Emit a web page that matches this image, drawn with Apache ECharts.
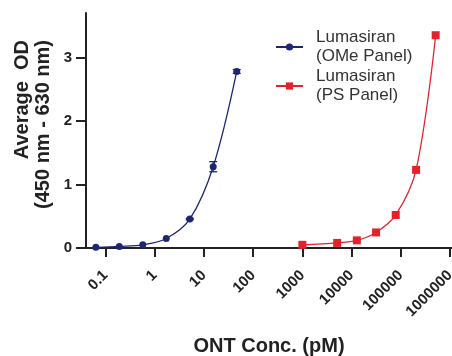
<!DOCTYPE html>
<html>
<head>
<meta charset="utf-8">
<script src="https://cdn.jsdelivr.net/npm/echarts@6/dist/echarts.min.js"></script>
<style>
  html, body { margin: 0; padding: 0; background: #fff; }
  #chart { width: 452px; height: 356px; }
</style>
</head>
<body>
<div id="chart"></div>
<script>
  // ONT concentrations (pM) and mean OD
  const omeConc = [0.0635, 0.19, 0.57, 1.71, 5.14, 15.4, 46.3];
  const omeOD = [0.01, 0.025, 0.05, 0.15, 0.455, 1.28, 2.78];
  const omeErr = [0, 0, 0, 0, 0.01, 0.08, 0.03];

  const psConc = [1000, 5100, 12800, 31500, 79000, 205000, 512000];
  const psOD = [0.05, 0.08, 0.12, 0.245, 0.52, 1.23, 3.35];

  const xTicks = [0.1, 1, 10, 100, 1000, 10000, 100000, 1000000];
  const yTicks = [0, 1, 2, 3];

  const FONT = '"Liberation Sans", Arial, sans-serif';
  const BLUE = '#1d2675';
  const RED = '#e3222b';
  const AXIS = '#222';

  const chart = echarts.init(document.getElementById('chart'));

  const omeData = omeConc.map((c, i) => [c, omeOD[i]]);
  const psData = psConc.map((c, i) => [c, psOD[i]]);
  const errData = omeConc.map((c, i) => [c, omeOD[i] - omeErr[i], omeOD[i] + omeErr[i]])
    .filter((d, i) => omeErr[i] > 0);

  chart.setOption({
    backgroundColor: '#fff',
    animation: false,
    textStyle: { fontFamily: FONT },

    grid: { left: 86, right: 0, top: 13, bottom: 108, outerBoundsMode: 'none' },

    legend: {
      orient: 'vertical',
      left: 270,
      top: 23,
      itemWidth: 27,
      itemHeight: 9,
      itemGap: 1,
      data: ['Lumasiran\n(OMe Panel)', 'Lumasiran\n(PS Panel)'],
      textStyle: { fontSize: 17, lineHeight: 19, color: '#333', fontFamily: FONT, padding: [0, 0, 0, 8] }
    },

    // 标题（Y）
    graphic: [{
      type: 'text',
      x: 33,
      y: 40,
      rotation: Math.PI / 2,
      style: {
        text: 'Average  OD\n(450 nm - 630 nm)',
        align: 'right',
        verticalAlign: 'middle',
        font: 'bold 20px ' + FONT,
        lineHeight: 21,
        fill: AXIS
      }
    }],

    xAxis: {
      type: 'log',
      logBase: 10,
      min: 0.04,
      max: 1100000,
      name: 'ONT Conc. (pM)',
      nameLocation: 'middle',
      nameGap: 88,
      nameTextStyle: { fontSize: 20, fontWeight: 'bold', color: AXIS, fontFamily: FONT },
      axisLine: { lineStyle: { color: AXIS, width: 2 } },
      axisTick: { show: true, length: 9, lineStyle: { color: AXIS, width: 2 }, customValues: xTicks },
      axisLabel: {
        customValues: xTicks,
        rotate: 45,
        margin: 25,
        fontSize: 15,
        fontWeight: 'bold',
        color: AXIS,
        fontFamily: FONT,
        formatter: v => String(v)
      },
      splitLine: { show: false },
      minorTick: { show: false }
    },

    yAxis: {
      type: 'value',
      min: 0,
      max: 3.7,
      interval: 1,
      axisLine: { show: true, lineStyle: { color: AXIS, width: 2 } },
      axisTick: { show: true, length: 10, lineStyle: { color: AXIS, width: 2 }, customValues: yTicks },
      axisLabel: {
        customValues: yTicks,
        margin: 14,
        fontSize: 15,
        fontWeight: 'bold',
        color: AXIS,
        fontFamily: FONT
      },
      splitLine: { show: false }
    },

    series: [{
      name: 'Lumasiran\n(OMe Panel)',
      type: 'line',
      data: omeData,
      smooth: 0.35,
      symbol: 'circle',
      symbolSize: 7,
      color: BLUE,
      lineStyle: { width: 1.3, color: BLUE },
      z: 3
    }, {
      name: 'Lumasiran\n(PS Panel)',
      type: 'line',
      data: psData,
      smooth: 0.35,
      symbol: 'rect',
      symbolSize: 8,
      color: RED,
      lineStyle: { width: 1.3, color: RED },
      z: 3
    }, {
      name: 'err',
      type: 'custom',
      data: errData,
      z: 4,
      renderItem(params, api) {
        const lo = api.coord([api.value(0), api.value(1)]);
        const hi = api.coord([api.value(0), api.value(2)]);
        const w = 4;
        const st = { stroke: BLUE, lineWidth: 1.3 };
        return {
          type: 'group',
          children: [
            { type: 'line', shape: { x1: lo[0], y1: lo[1], x2: hi[0], y2: hi[1] }, style: st },
            { type: 'line', shape: { x1: lo[0] - w, y1: lo[1], x2: lo[0] + w, y2: lo[1] }, style: st },
            { type: 'line', shape: { x1: hi[0] - w, y1: hi[1], x2: hi[0] + w, y2: hi[1] }, style: st }
          ]
        };
      }
    }]
  });
</script>
</body>
</html>
